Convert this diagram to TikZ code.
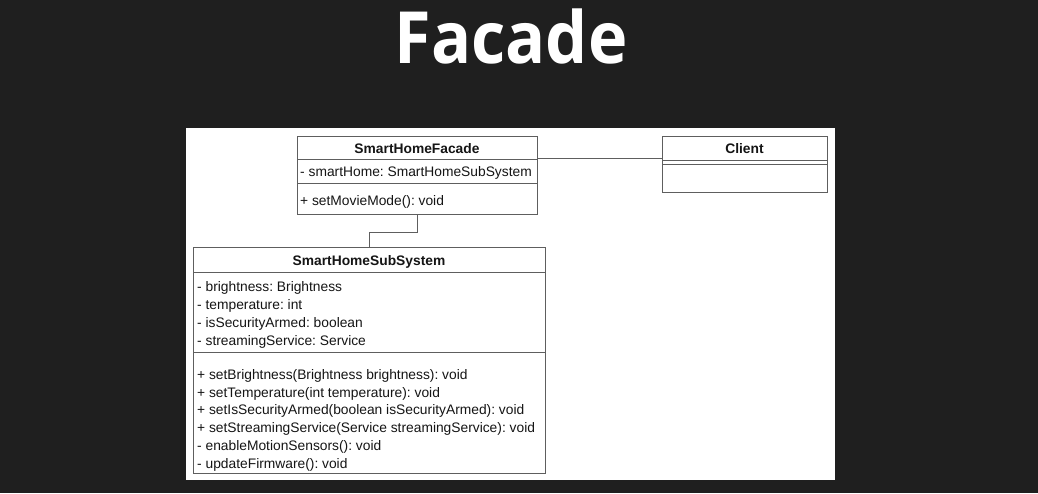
\documentclass[tikz,border=0pt]{standalone}
\usepackage{fontspec}
\setmainfont{Liberation Sans}
\newfontfamily\titlefont{Open Sans}
\definecolor{bgdark}{HTML}{1F1F1F}
\definecolor{umlline}{HTML}{5E5E5E}
\definecolor{umltext}{HTML}{151515}
\tikzset{
  umlbox/.style={draw=umlline, line width=1pt, fill=white, inner sep=0pt},
  divider/.style={draw=umlline, line width=1pt},
  conn/.style={draw=umlline, line width=1pt},
  member/.style={anchor=base west, inner sep=0pt, text=umltext, font=\fontsize{13.8pt}{16pt}\selectfont\frenchspacing},
  classname/.style={anchor=base, inner sep=0pt, text=umltext, font=\fontsize{13.8pt}{16pt}\selectfont\bfseries},
}
\begin{document}
\begin{tikzpicture}[x=1pt,y=-1pt]
\fill[bgdark] (0,0) rectangle (1038,493);
\useasboundingbox (0,0) rectangle (1038,493);
% title
\node[text=white, font=\titlefont\bfseries\fontsize{72pt}{80pt}\selectfont, anchor=base, inner sep=0pt, xscale=0.925] (title) at (511,63) {Facade};
% panel
\node[fill=white, draw=none, minimum width=649pt, minimum height=352pt, anchor=north west, inner sep=0pt] (panel) at (186,128) {};
% SmartHomeFacade
\node[umlbox, minimum width=240pt, minimum height=78pt, anchor=north west] (fac) at (297,136) {};
\draw[divider] (fac.west |- 0,159.5) -- (fac.east |- 0,159.5);
\draw[divider] (fac.west |- 0,183) -- (fac.east |- 0,183);
\node[classname] (facname) at (417,153) {SmartHomeFacade};
\node[member] (facattr) at (300,176) {- smartHome: SmartHomeSubSystem};
\node[member] (facop) at (300,205) {+ setMovieMode(): void};
% Client
\node[umlbox, minimum width=165pt, minimum height=56pt, anchor=north west] (cli) at (662,136) {};
\draw[divider] (cli.west |- 0,160) -- (cli.east |- 0,160);
\draw[divider] (cli.west |- 0,164) -- (cli.east |- 0,164);
\node[classname] (cliname) at (744.5,153) {Client};
% SmartHomeSubSystem
\node[umlbox, minimum width=352pt, minimum height=226pt, anchor=north west] (sub) at (193,247) {};
\draw[divider] (sub.west |- 0,272.5) -- (sub.east |- 0,272.5);
\draw[divider] (sub.west |- 0,352) -- (sub.east |- 0,352);
\node[classname] (subname) at (369,265.5) {SmartHomeSubSystem};
\node[member] (a1) at (197,291.5) {- brightness: Brightness};
\node[member] (a2) at (197,309.5) {- temperature: int};
\node[member] (a3) at (197,327.5) {- isSecurityArmed: boolean};
\node[member] (a4) at (197,345.5) {- streamingService: Service};
\node[member] (m1) at (197,379) {+ setBrightness(Brightness brightness): void};
\node[member] (m2) at (197,397) {+ setTemperature(int temperature): void};
\node[member] (m3) at (197,414.7) {+ setIsSecurityArmed(boolean isSecurityArmed): void};
\node[member] (m4) at (197,432.5) {+ setStreamingService(Service streamingService): void};
\node[member] (m5) at (197,450.3) {- enableMotionSensors(): void};
\node[member] (m6) at (197,468) {- updateFirmware(): void};
% connectors
\draw[conn] (fac.east |- 0,158) -- (cli.west |- 0,158);
\draw[conn] (fac.south) -- ++(0,17) -| (sub.north);
\end{tikzpicture}
\end{document}
